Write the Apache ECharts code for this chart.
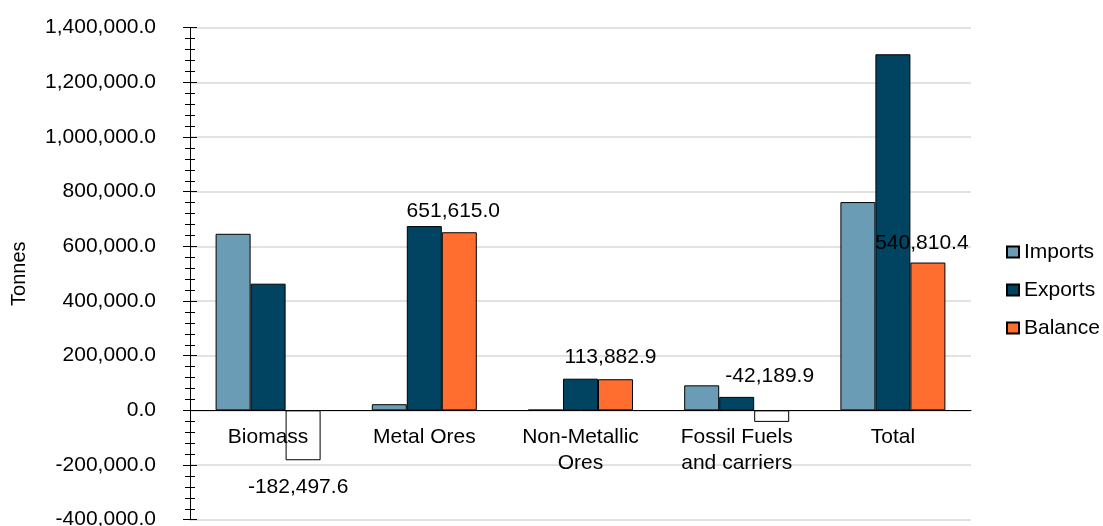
<!DOCTYPE html>
<html>
<head>
<meta charset="utf-8">
<style>
  html, body { margin: 0; padding: 0; background: #fff; }
  #chart { width: 1103px; height: 526px; }
</style>
<script src="https://cdn.jsdelivr.net/npm/echarts@6/dist/echarts.min.js"></script>
</head>
<body>
<div id="chart"></div>
<script>
// Material flows by group, in tonnes
const categories = ['Biomass', 'Metal Ores', 'Non-Metallic\nOres', 'Fossil Fuels\nand carriers', 'Total'];
const imports = [646000, 22500, 2000, 91500, 762000];
const exports = [463502.4, 674115, 115882.9, 49310.1, 1302810.4];
const balance = [-182497.6, 651615.0, 113882.9, -42189.9, 540810.4];

// Value axis range and step
const yMin = -400000;
const yMax = 1400000;
const yStep = 200000;

// Where each balance label sits relative to its bar
const balanceLabelPlacement = [
  { position: 'bottom', distance: 16, offset: [-5, 0] },
  { position: 'top', distance: 11, offset: [-6, 0] },
  { position: 'top', distance: 12, offset: [-5, 0] },
  { position: 'top', distance: 24, offset: [-2, 0] },
  { position: 'top', distance: 9, offset: [-6, 0] }
];

const FONT = 'Liberation Sans, Arial, sans-serif';
const FS = 21;
const fmt = v => Number(v).toLocaleString('en-US', { minimumFractionDigits: 1, maximumFractionDigits: 1 });

// Plot box
const GRID = { left: 190, right: 132, top: 27.7, bottom: 6.3 };
const plotHeight = 526 - GRID.top - GRID.bottom;
// Category labels hang just under the zero line rather than the plot's bottom edge
const zeroFromBottom = plotHeight * (0 - yMin) / (yMax - yMin);
const categoryLabelMargin = 14 - zeroFromBottom;

const border = { borderColor: '#000', borderWidth: 1 };

const chart = echarts.init(document.getElementById('chart'), null, { renderer: 'canvas' });

chart.setOption({
  animation: false,
  backgroundColor: '#fff',
  textStyle: { fontFamily: FONT, color: '#000' },
  grid: Object.assign({ containLabel: false, outerBoundsMode: 'none' }, GRID),
  legend: {
    orient: 'vertical',
    left: 1001,
    top: 236.5,
    itemWidth: 12,
    itemHeight: 11,
    itemGap: 17,
    icon: 'rect',
    textStyle: { fontFamily: FONT, fontSize: FS, color: '#000', lineHeight: 21 },
    data: ['Imports', 'Exports', 'Balance']
  },
  xAxis: {
    type: 'category',
    data: categories,
    z: 3,
    axisLine: { onZero: true, lineStyle: { color: '#000', width: 1 } },
    axisTick: { show: false },
    axisLabel: { fontFamily: FONT, fontSize: FS, color: '#000', lineHeight: 26, margin: categoryLabelMargin, interval: 0 },
    splitLine: { show: false }
  },
  yAxis: [
    {
      type: 'value',
      min: yMin,
      max: yMax,
      interval: yStep,
      name: 'Tonnes',
      nameLocation: 'middle',
      nameGap: 161,
      nameRotate: 90,
      nameTextStyle: { fontFamily: FONT, fontSize: 20, color: '#000' },
      axisLine: { show: true, lineStyle: { color: '#000', width: 1 } },
      axisTick: { show: true, length: 7, lineStyle: { color: '#000' } },
      minorTick: { show: true, splitNumber: 5, length: 5, lineStyle: { color: '#000' } },
      axisLabel: { fontFamily: FONT, fontSize: FS, color: '#000', margin: 34, formatter: fmt },
      splitLine: { show: true, lineStyle: { color: '#d9d9d9', width: 1.5 } }
    },
    {
      type: 'value',
      min: yMin,
      max: yMax,
      interval: yStep,
      position: 'left',
      axisLine: { show: false },
      axisTick: { show: true, inside: true, length: 7, lineStyle: { color: '#000' } },
      minorTick: { show: true, splitNumber: 5, length: 5, lineStyle: { color: '#000' } },
      axisLabel: { show: false },
      splitLine: { show: false }
    }
  ],
  series: [
    {
      name: 'Imports',
      type: 'bar',
      data: imports,
      barWidth: 35,
      barGap: '0%',
      itemStyle: Object.assign({ color: '#6a9db5' }, border)
    },
    {
      name: 'Exports',
      type: 'bar',
      data: exports,
      barWidth: 35,
      barGap: '0%',
      itemStyle: Object.assign({ color: '#004462' }, border)
    },
    {
      name: 'Balance',
      type: 'bar',
      barWidth: 35,
      barGap: '0%',
      itemStyle: Object.assign({ color: '#ff6d2f' }, border),
      data: balance.map((v, i) => ({
        value: v,
        itemStyle: v < 0 ? { color: '#ffffff' } : undefined,
        label: {
          show: true,
          position: balanceLabelPlacement[i].position,
          distance: balanceLabelPlacement[i].distance,
          offset: balanceLabelPlacement[i].offset,
          formatter: p => fmt(p.value),
          fontFamily: FONT,
          fontSize: FS,
          color: '#000'
        }
      }))
    }
  ]
});
</script>
</body>
</html>
